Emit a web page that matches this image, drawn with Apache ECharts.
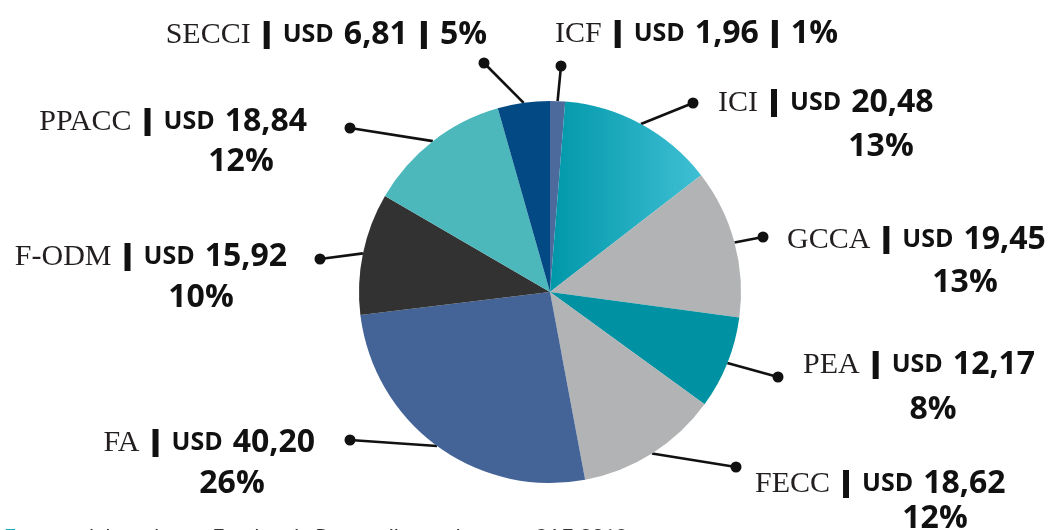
<!DOCTYPE html>
<html>
<head>
<meta charset="utf-8">
<script src="https://cdn.jsdelivr.net/npm/echarts@6/dist/echarts.min.js"></script>
<style>
  html, body { margin: 0; padding: 0; background: #fff; }
  #chart { width: 1048px; height: 530px; }
</style>
</head>
<body>
<div id="chart"></div>
<script>
// Fondos, en sentido horario desde las 12 (USD millones)
const fundNames = ['ICF', 'ICI', 'GCCA', 'PEA', 'FECC', 'FA', 'F-ODM', 'PPACC', 'SECCI'];
const fundValues = [1.96, 20.48, 19.45, 12.17, 18.62, 40.20, 15.92, 18.84, 6.81];
const fundPercents = ['1%', '13%', '13%', '8%', '12%', '26%', '10%', '12%', '5%'];
const singleLine = ['ICF', 'SECCI'];

const sliceColors = ['#4d6a9c', null, '#b2b3b5', '#0092a2', '#b2b3b5', '#446498', '#323232', '#4db8bc', '#034a84'];

// label placement: [x anchor, centre of first line, align, centre x of % line, gap to % line]
const labelAnchor = [
  [555, 34, 'left'],
  [718, 103, 'left', 881, 44],
  [787, 240, 'left', 965, 43],
  [803, 365, 'left', 933, 45],
  [755, 484, 'left', 935, 35],
  [315, 443, 'right', 232, 41],
  [287, 257, 'right', 201, 41],
  [307, 122, 'right', 241, 40],
  [487, 35, 'right']
];
const dotAnchor = [[561, 66], [693, 103], [763, 237], [778, 377], [736, 467], [350, 440], [320, 259], [350, 128], [484, 63]];

const LINE_H = 42;
const FONT_NAME = '"Liberation Serif", "DejaVu Serif", serif';
const FONT_BOLD = '"Open Sans", Roboto, sans-serif';
const NAME_SIZE = 30;
const USD_SIZE = 25;
const NUM_SIZE = 32;
const GAP = 13, BAR_W = 6, GAP_V = 10;

const fmtValue = v => v.toFixed(2).replace('.', ',');

const ctx = document.createElement('canvas').getContext('2d');
const boldWidth = (str, size) => { ctx.font = 'bold ' + size + 'px ' + FONT_BOLD; return ctx.measureText(str).width; };
const nameWidth = str => { ctx.font = NAME_SIZE + 'px ' + FONT_NAME; return ctx.measureText(str).width; };

const boldStyle = size => ({ fontFamily: FONT_BOLD, fontWeight: 'bold', fontSize: size, color: '#111', lineHeight: LINE_H });

const rich = {
  n: { fontFamily: FONT_NAME, fontSize: NAME_SIZE, color: '#231f20', lineHeight: LINE_H },
  g: { width: GAP, lineHeight: LINE_H },
  gv: { width: GAP_V, lineHeight: LINE_H },
  bar: { width: BAR_W, height: 28, backgroundColor: '#111', lineHeight: LINE_H },
  u: boldStyle(USD_SIZE),
  v: boldStyle(NUM_SIZE)
};

// % line: right-aligned token, padded so its centre lands on the wanted x
fundPercents.forEach((pct, i) => {
  const a = labelAnchor[i];
  if (a[3] == null) return;
  const line1 = nameWidth(fundNames[i]) + 2 * GAP + BAR_W + boldWidth('USD', USD_SIZE) + GAP_V + boldWidth(fmtValue(fundValues[i]), NUM_SIZE);
  const rightEdge = a[2] === 'left' ? a[0] + line1 : a[0];
  const pad = Math.max(0, rightEdge - (a[3] + boldWidth(pct, NUM_SIZE) / 2));
  rich['p' + i] = Object.assign(boldStyle(NUM_SIZE), {
    align: 'right',
    lineHeight: 2 * (a[4] - LINE_H / 2),
    padding: [0, pad, 0, 0]
  });
});

function labelText(i) {
  const name = fundNames[i];
  let s = '{n|' + name + '}{g| }{bar| }{g| }{u|USD}{gv| }{v|' + fmtValue(fundValues[i]) + '}';
  if (singleLine.indexOf(name) >= 0) {
    s += '{g| }{bar| }{g| }{v|' + fundPercents[i] + '}';
  } else {
    s += '\n{p' + i + '|' + fundPercents[i] + '}';
  }
  return s;
}

const pieData = fundNames.map((name, i) => ({
  name: name,
  value: fundValues[i],
  itemStyle: {
    color: sliceColors[i] || new echarts.graphic.LinearGradient(0, 0, 1, 0, [
      { offset: 0, color: '#0097a9' },
      { offset: 1, color: '#3fbfd4' }
    ])
  }
}));

const chart = echarts.init(document.getElementById('chart'));

chart.setOption({
  animation: false,
  backgroundColor: '#fff',
  title: {
    left: 4,
    top: 528,
    padding: 0,
    text: '{a|Fuente:} {b|elaborado por Fondos de Desarrollo con base en CAF, 2018}',
    textStyle: {
      rich: {
        a: { fontFamily: 'Roboto, sans-serif', fontWeight: 'normal', fontSize: 21, color: '#1ba9b5' },
        b: { fontFamily: 'Roboto, sans-serif', fontWeight: 'normal', fontSize: 21, color: '#333' }
      }
    }
  },
  series: [
    {
      // slices + leader lines ending in a dot
      type: 'pie',
      center: [550, 292],
      radius: 191,
      startAngle: 90,
      clockwise: true,
      silent: true,
      avoidLabelOverlap: false,
      data: pieData,
      label: {
        show: true,
        position: 'outside',
        formatter: '{d| }',
        rich: { d: { width: 11, height: 11, borderRadius: 6, backgroundColor: '#111' } }
      },
      labelLine: { show: true, length: 10, length2: 10, lineStyle: { color: '#111', width: 2.6 } },
      labelLayout: function (p) {
        const d = dotAnchor[p.dataIndex];
        const start = p.labelLinePoints ? p.labelLinePoints[0] : d;
        return { x: d[0], y: d[1], align: 'center', verticalAlign: 'middle', labelLinePoints: [start, d] };
      }
    },
    {
      // text labels only
      type: 'pie',
      center: [550, 292],
      radius: 191,
      startAngle: 90,
      clockwise: true,
      silent: true,
      avoidLabelOverlap: false,
      itemStyle: { color: 'rgba(0,0,0,0)' },
      data: fundNames.map((name, i) => ({ name: name, value: fundValues[i] })),
      label: {
        show: true,
        position: 'outside',
        formatter: p => labelText(p.dataIndex),
        rich: rich
      },
      labelLine: { show: false },
      labelLayout: function (p) {
        const a = labelAnchor[p.dataIndex];
        return { x: a[0], y: a[1] - LINE_H / 2, align: a[2], verticalAlign: 'top' };
      }
    }
  ]
});
</script>
</body>
</html>
